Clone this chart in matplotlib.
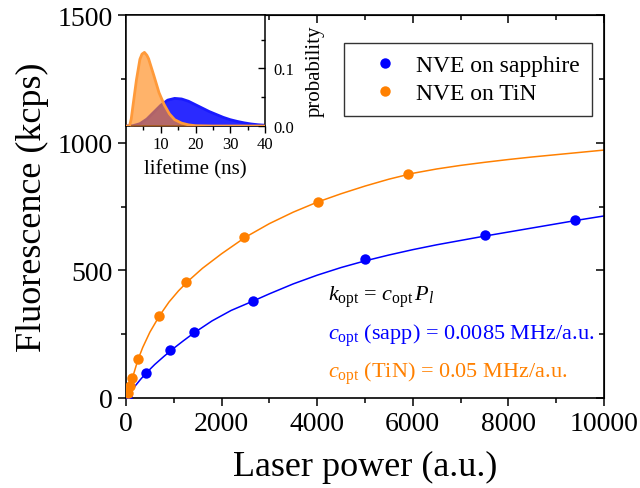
import matplotlib
matplotlib.use("Agg")
import matplotlib.pyplot as plt
from matplotlib.ticker import MultipleLocator, FixedLocator, FormatStrFormatter

plt.rcParams['font.family'] = ['Liberation Serif', 'DejaVu Serif']
plt.rcParams['mathtext.fontset'] = 'custom'
plt.rcParams['mathtext.rm'] = 'Liberation Serif'
plt.rcParams['mathtext.it'] = 'Liberation Serif:italic'

# ---- data: measured points ----
p_sapp = [30, 418, 920, 1423, 2650, 5010, 7520, 9393]
f_sapp = [5, 97, 188, 257, 379, 543, 638, 698]
p_tin = [40, 85, 130, 255, 697, 1255, 2469, 4010, 5906]
f_tin = [20, 48, 80, 152, 322, 453, 632, 768, 879]

# ---- fit curves ----
fit_p_sapp = [0, 100, 200, 300, 418, 600, 800, 1000, 1200, 1423, 1800, 2200, 2650,
              3000, 3500, 4000, 4500, 5000, 5500, 6000, 6500, 7000, 7500, 8000,
              8500, 9000, 9500, 10000]
fit_f_sapp = [0, 25, 49, 72, 97, 131, 164, 195, 224, 255, 302, 343, 379,
              408, 447, 481, 511, 537, 560, 581, 600, 617, 634, 650,
              666, 682, 698, 713]
fit_p_tin = [0, 50, 100, 150, 250, 350, 500, 700, 900, 1100, 1300, 1600, 2000,
             2500, 3000, 3500, 4000, 4500, 5000, 5500, 6000, 6500, 7000, 7500,
             8000, 8500, 9000, 9500, 10000]
fit_f_tin = [0, 30, 59, 88, 150, 198, 258, 322, 376, 420, 458, 508, 565,
             630, 683, 728, 767, 800, 830, 857, 880, 897, 911, 923,
             934, 944, 953, 962, 971]

# ---- inset: lifetime distributions ----
t_sapp = [0, 2, 4, 6, 8, 10, 12, 14, 16, 18, 20, 22, 24, 26, 28, 30, 32, 34, 36, 38, 40]
prob_sapp = [0, 0.0005, 0.004, 0.012, 0.024, 0.036, 0.045, 0.048, 0.047, 0.043, 0.037,
             0.031, 0.025, 0.020, 0.015, 0.011, 0.008, 0.0055, 0.0035, 0.0022, 0.0013]
t_tin = [0, 1.0, 1.5, 2.0, 3.0, 4.0, 4.6, 5.3, 6.0, 6.5, 8.0, 9.5, 11, 12.5, 14, 16, 18, 20, 25, 40]
prob_tin = [0, 0, 0.012, 0.035, 0.080, 0.116, 0.125, 0.128, 0.123, 0.117, 0.088, 0.058,
            0.037, 0.021, 0.011, 0.005, 0.002, 0.0005, 0, 0]

BLUE = '#0000ff'
ORANGE = '#ff8000'

fig = plt.figure(figsize=(6.4, 4.89), dpi=100)
W, H = 640, 489
ax = fig.add_axes([126 / W, (H - 399) / H, (604 - 126) / W, (399 - 16) / H])

ax.plot(fit_p_sapp, fit_f_sapp, color=BLUE, lw=1.1, zorder=2)
ax.plot(fit_p_tin, fit_f_tin, color=ORANGE, lw=1.1, zorder=2)
ax.plot(p_sapp, f_sapp, 'o', color=BLUE, ms=7.5, mec='none', zorder=3, label='NVE on sapphire')
ax.plot(p_tin, f_tin, 'o', color=ORANGE, ms=7.5, mec='none', zorder=3, label='NVE on TiN')

ax.set_xlim(0, 10000)
ax.set_ylim(0, 1500)
ax.xaxis.set_major_locator(MultipleLocator(2000))
ax.xaxis.set_minor_locator(MultipleLocator(1000))
ax.yaxis.set_major_locator(MultipleLocator(500))
ax.yaxis.set_minor_locator(MultipleLocator(250))
ax.tick_params(which='both', direction='out', labelsize=20, width=1.1)
ax.tick_params(which='major', length=6)
ax.tick_params(which='minor', length=3.5)
for s in ax.spines.values():
    s.set_linewidth(1.2)

ax.set_xlabel('Laser power (a.u.)', fontsize=26, labelpad=10)
ax.set_ylabel('Fluorescence (kcps)', fontsize=26, labelpad=6)

# mirrored ticks on top/right, pointing inward
axt = ax.secondary_xaxis('top')
axt.xaxis.set_major_locator(MultipleLocator(2000))
axt.xaxis.set_minor_locator(MultipleLocator(1000))
axt.tick_params(which='both', direction='in', labeltop=False, width=1.1)
axt.tick_params(which='major', length=6)
axt.tick_params(which='minor', length=3.5)
axr = ax.secondary_yaxis('right')
axr.yaxis.set_major_locator(MultipleLocator(500))
axr.yaxis.set_minor_locator(MultipleLocator(250))
axr.tick_params(which='both', direction='in', labelright=False, width=1.1)
axr.tick_params(which='major', length=6)
axr.tick_params(which='minor', length=3.5)

leg = ax.legend(loc='upper right', bbox_to_anchor=(592 / W, (H - 44) / H),
                bbox_transform=fig.transFigure, fontsize=17, frameon=True,
                fancybox=False, edgecolor='black', handlelength=2.4,
                handletextpad=0.15, borderpad=0.5, labelspacing=0.25,
                borderaxespad=0, markerscale=1.0)
leg.get_frame().set_linewidth(1.0)

ax.text(4226, 400, r'$k_{\rm opt}$ = $c_{\rm opt}\,P_l$', fontsize=16, va='center', color='black')
ax.text(4226, 247, r'$c_{\rm opt}$ (sapp) = 0.0085 MHz/a.u.', fontsize=16, va='center', color=BLUE)
ax.text(4226, 98, r'$c_{\rm opt}$ (TiN) = 0.05 MHz/a.u.', fontsize=16, va='center', color=ORANGE)

# ---- inset ----
axi = fig.add_axes([126 / W, (H - 127) / H, (265 - 126) / W, (127 - 16) / H])
axi.set_facecolor('white')
axi.fill_between(t_sapp, 0, prob_sapp, color='#2a2aff', lw=0, zorder=1)
axi.plot(t_sapp, prob_sapp, color='#1a1aff', lw=2, zorder=2)
axi.fill_between(t_tin, 0, prob_tin, color='#ff8a1a', alpha=0.65, lw=0, zorder=3)
axi.plot(t_tin, prob_tin, color='#ff9a3a', lw=2, zorder=4)
axi.set_xlim(0, 40)
axi.set_ylim(0, 0.193)
axi.xaxis.set_major_locator(FixedLocator([10, 20, 30, 40]))
axi.xaxis.set_minor_locator(FixedLocator([5, 15, 25, 35]))
axi.yaxis.tick_right()
axi.yaxis.set_label_position('right')
axi.yaxis.set_major_locator(FixedLocator([0.0, 0.1]))
axi.yaxis.set_minor_locator(FixedLocator([0.05, 0.15]))
axi.yaxis.set_major_formatter(FormatStrFormatter('%.1f'))
axi.tick_params(axis='x', which='both', direction='out', labelsize=12, pad=2, width=1)
axi.tick_params(axis='y', which='both', direction='in', labelsize=12, pad=6, width=1)
axi.tick_params(which='major', length=5)
axi.tick_params(which='minor', length=3)
axi.set_xlabel('lifetime (ns)', fontsize=15, labelpad=5)
axi.set_ylabel('probability', fontsize=15, labelpad=8)
for s in axi.spines.values():
    s.set_linewidth(1.1)

fig.savefig('out.png', dpi=100)
